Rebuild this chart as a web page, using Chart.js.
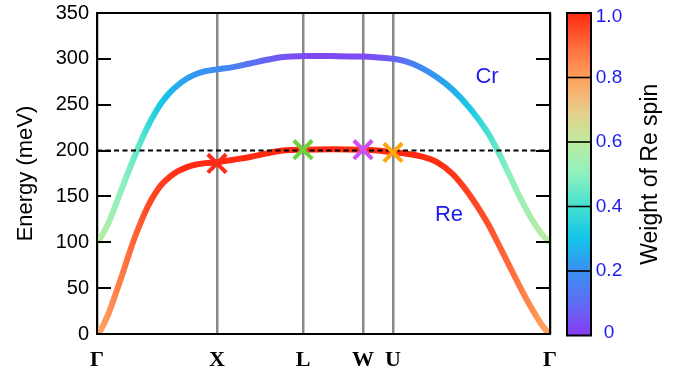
<!DOCTYPE html>
<html>
<head>
<meta charset="utf-8">
<script src="https://cdn.jsdelivr.net/npm/chart.js@4.4.0/dist/chart.umd.min.js"></script>
<style>
  html, body { margin: 0; padding: 0; background: #fff; }
  #wrap { width: 689px; height: 371px; }
</style>
</head>
<body>
<div id="wrap"><canvas id="bands" width="689" height="371"></canvas></div>
<script>
// path coordinate along Γ-X-L-W-U-Γ
const kPath = [0, 3, 11, 18, 25, 31, 38, 45, 51, 58, 65, 73, 81, 90, 98, 108, 120, 136, 153, 170, 186, 206, 236, 266, 281, 296, 308, 323, 340, 356, 373, 390, 401, 413, 423, 433, 443, 448, 453];

// upper band (Cr) and lower band (Re), meV
const crEnergy = [100, 104, 120, 139, 159, 176, 195, 213, 227, 241, 253, 263.5, 271.5, 278.5, 283, 286.5, 288.5, 291, 295, 299, 302, 303, 303, 302.5, 301.5, 300, 297.5, 291, 280, 266, 246, 221, 199, 172, 149, 128.5, 111.5, 105, 100];
const reEnergy = [0, 3, 21, 42, 64, 84, 106, 125, 139.5, 153, 163.5, 171.5, 177.5, 182, 184.5, 186.3, 187.3, 190, 193, 197, 200, 201, 201.5, 201, 200, 198, 196.8, 194, 187.5, 174, 151, 122, 99, 73, 51.5, 31, 13, 5.5, 0];

// weight of Re spin along each band
const crWeight = [0.6, 0.59, 0.56, 0.53, 0.5, 0.48, 0.45, 0.42, 0.38, 0.34, 0.31, 0.28, 0.25, 0.23, 0.21, 0.2, 0.19, 0.16, 0.12, 0.08, 0.05, 0.03, 0.03, 0.03, 0.05, 0.08, 0.12, 0.18, 0.22, 0.26, 0.32, 0.4, 0.45, 0.5, 0.53, 0.55, 0.58, 0.59, 0.6];
const reWeight = [0.78, 0.79, 0.82, 0.85, 0.87, 0.89, 0.91, 0.93, 0.95, 0.96, 0.97, 0.98, 0.99, 1, 1, 1, 1, 1, 1, 1, 1, 1, 1, 1, 1, 1, 1, 1, 0.99, 0.98, 0.96, 0.94, 0.92, 0.9, 0.87, 0.84, 0.81, 0.8, 0.78];

// high-symmetry points
const symK = [0, 120, 206, 266, 296, 453];
const symLabels = ['Γ', 'X', 'L', 'W', 'U', 'Γ'];

// crossing markers
const markK = [120, 206, 266, 296];
const markE = [186, 201, 201, 198];
const markColors = ['#ff2a18', '#6dd13e', '#cf4ff2', '#ffa514'];

const fermiE = 200;

const cbTicks = [0, 0.2, 0.4, 0.6, 0.8, 1.0];
const cbLabels = ['0', '0.2', '0.4', '0.6', '0.8', '1.0'];

// colormap stops
const cmapStops = [
    [0.0, [138, 60, 245]],
    [0.1, [95, 108, 242]],
    [0.2, [58, 143, 242]],
    [0.3, [18, 196, 234]],
    [0.4, [69, 224, 208]],
    [0.5, [142, 240, 191]],
    [0.6, [189, 236, 160]],
    [0.7, [232, 204, 136]],
    [0.8, [255, 160, 92]],
    [0.9, [255, 106, 60]],
    [1.0, [255, 42, 16]]
];

function cmap(w) {
    w = Math.max(0, Math.min(1, w));
    for (let i = 1; i < cmapStops.length; i++) {
        const [w1, c1] = cmapStops[i];
        const [w0, c0] = cmapStops[i - 1];
        if (w <= w1) {
            const t = (w - w0) / (w1 - w0);
            const c = c0.map((v, j) => Math.round(v + (c1[j] - v) * t));
            return `rgb(${c[0]},${c[1]},${c[2]})`;
        }
    }
    return 'rgb(255,42,16)';
}

function bandGradient(weights) {
    return function (ctx) {
        const chart = ctx.chart;
        if (!chart.chartArea) return '#000';
        const xs = chart.scales.x;
        const p0 = xs.getPixelForValue(kPath[0]);
        const p1 = xs.getPixelForValue(kPath[kPath.length - 1]);
        const g = chart.ctx.createLinearGradient(p0, 0, p1, 0);
        kPath.forEach((k, i) => {
            g.addColorStop((xs.getPixelForValue(k) - p0) / (p1 - p0), cmap(weights[i]));
        });
        return g;
    };
}

const BLUE = '#1c1cf0';
const SANS = '"Liberation Sans", Arial, Helvetica, sans-serif';

// colorbar, inward ticks, frame, band names
const extras = {
    id: 'extras',
    afterDraw(chart) {
        const { ctx, chartArea: a, scales } = chart;
        const ys = scales.y;
        ctx.save();

        // inward ticks on both sides
        ctx.strokeStyle = '#000';
        ctx.lineWidth = 2;
        ys.ticks.forEach(t => {
            const py = Math.round(ys.getPixelForValue(t.value));
            ctx.beginPath();
            ctx.moveTo(a.left, py); ctx.lineTo(a.left + 14, py);
            ctx.moveTo(a.right, py); ctx.lineTo(a.right - 14, py);
            ctx.stroke();
        });

        // frame
        ctx.lineWidth = 2;
        ctx.strokeRect(a.left, a.top, a.right - a.left, a.bottom - a.top);

        // band names
        ctx.fillStyle = BLUE;
        ctx.font = '22px ' + SANS;
        ctx.textAlign = 'center';
        ctx.textBaseline = 'middle';
        const xs = scales.x;
        ctx.fillText('Cr', xs.getPixelForValue(390), ys.getPixelForValue(280));
        ctx.fillText('Re', xs.getPixelForValue(352), ys.getPixelForValue(130));

        // colorbar
        const cbL = a.right + 17, cbW = 24, cbT = a.top, cbB = a.bottom + 1.5;
        const cbY = v => cbB - v * (cbB - cbT);
        const g = ctx.createLinearGradient(0, cbB, 0, cbT);
        cmapStops.forEach(([w]) => g.addColorStop(w, cmap(w)));
        ctx.fillStyle = g;
        ctx.fillRect(cbL, cbT, cbW, cbB - cbT);
        ctx.strokeStyle = '#000';
        ctx.lineWidth = 1.6;
        cbTicks.slice(1, -1).forEach(v => {
            ctx.beginPath();
            ctx.moveTo(cbL, cbY(v)); ctx.lineTo(cbL + cbW, cbY(v));
            ctx.stroke();
        });
        ctx.lineWidth = 2;
        ctx.strokeRect(cbL, cbT, cbW, cbB - cbT);

        ctx.fillStyle = BLUE;
        ctx.font = '19px ' + SANS;
        ctx.textAlign = 'center';
        cbTicks.forEach((v, i) => {
            const py = Math.min(cbB - 3, Math.max(cbT + 4, cbY(v)));
            ctx.fillText(cbLabels[i], cbL + cbW + 18, py);
        });

        ctx.fillStyle = '#000';
        ctx.font = '23px ' + SANS;
        ctx.translate(cbL + cbW + 60, (cbT + cbB) / 2);
        ctx.rotate(-Math.PI / 2);
        ctx.fillText('Weight of Re spin', 0, 0);
        ctx.restore();
    }
};

const ctxBands = document.getElementById('bands').getContext('2d');
new Chart(ctxBands, {
    type: 'line',
    data: {
        datasets: [
            {
                label: 'markers',
                type: 'scatter',
                data: markK.map((k, i) => ({ x: k, y: markE[i] })),
                pointStyle: 'crossRot',
                pointRadius: 13,
                pointBorderWidth: 4,
                pointBorderColor: markColors,
                pointBackgroundColor: markColors,
                order: 1
            },
            {
                label: 'Ef',
                data: [{ x: kPath[0], y: fermiE }, { x: kPath[kPath.length - 1], y: fermiE }],
                borderColor: '#000',
                borderWidth: 2,
                borderDash: [5, 3.5],
                pointRadius: 0,
                order: 2
            },
            {
                label: 'Cr',
                data: kPath.map((k, i) => ({ x: k, y: crEnergy[i] })),
                borderColor: bandGradient(crWeight),
                borderWidth: 6,
                borderCapStyle: 'round',
                borderJoinStyle: 'round',
                tension: 0.4,
                pointRadius: 0,
                order: 3
            },
            {
                label: 'Re',
                data: kPath.map((k, i) => ({ x: k, y: reEnergy[i] })),
                borderColor: bandGradient(reWeight),
                borderWidth: 6,
                borderCapStyle: 'round',
                borderJoinStyle: 'round',
                tension: 0.4,
                pointRadius: 0,
                order: 3
            }
        ]
    },
    options: {
        responsive: false,
        animation: false,
        layout: { autoPadding: false, padding: { top: 13, right: 139, left: 0, bottom: 0 } },
        plugins: { legend: { display: false }, tooltip: { enabled: false } },
        scales: {
            x: {
                type: 'linear',
                min: symK[0],
                max: symK[symK.length - 1],
                afterBuildTicks: s => { s.ticks = symK.map(v => ({ value: v })); },
                afterFit: s => { s.height = 37; s.paddingLeft = 0; s.paddingRight = 0; },
                grid: { color: '#888', lineWidth: 2.5, drawTicks: false },
                border: { display: false },
                ticks: {
                    autoSkip: false,
                    maxRotation: 0,
                    padding: 13,
                    color: '#000',
                    font: { family: '"Liberation Serif", "Times New Roman", serif', weight: 'bold', size: 22 },
                    callback: (v, i) => symLabels[i]
                }
            },
            y: {
                min: 0,
                max: 350,
                afterFit: s => { s.width = 97; s.paddingTop = 0; s.paddingBottom = 0; },
                grid: { display: false, drawTicks: false },
                border: { display: false },
                ticks: {
                    stepSize: 50,
                    padding: 8,
                    color: '#000',
                    font: { family: SANS, size: 20 }
                },
                title: {
                    display: true,
                    text: 'Energy (meV)',
                    color: '#000',
                    font: { family: SANS, size: 22 },
                    padding: { top: 13, bottom: 0 }
                }
            }
        }
    },
    plugins: [extras]
});
</script>
</body>
</html>
